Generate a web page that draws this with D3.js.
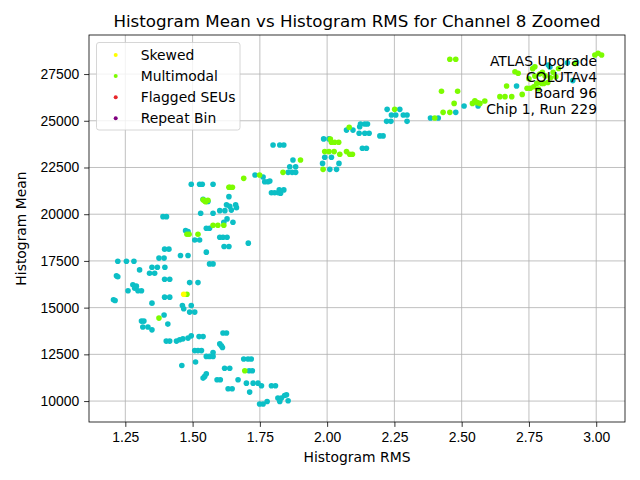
<!DOCTYPE html>
<html>
<head>
  <meta charset="utf-8">
  <title>Histogram Mean vs Histogram RMS</title>
  <script src="https://d3js.org/d3.v7.min.js"></script>
  <style>
    body, html { margin: 0; padding: 0; background: #fff; }
    svg { display: block; font-family: "DejaVu Sans", sans-serif; }
    .grid line { stroke: #b0b0b0; stroke-width: 0.8px; }
    .axis text { font-size: 13.9px; fill: #000; }
    .axis path, .axis line { stroke: #000; stroke-width: 0.8px; }
  </style>
</head>
<body>
<svg width="640" height="480"></svg>
<script>
  // Every channel-8 histogram (drawn first, no legend entry)
  const allPoints = [
    [1.206,15420],[1.212,15380],[1.217,16700],[1.222,16650],
    [1.222,17480],[1.254,17480],[1.282,17480],[1.303,17020],
    [1.349,17160],[1.369,17160],[1.397,17160],[1.340,16840],[1.359,16840],
    [1.396,16520],[1.415,16520],[1.489,16340],[1.520,16340],
    [1.278,16220],[1.285,16040],[1.291,16150],[1.260,15900],[1.297,15900],[1.310,15900],
    [1.396,15560],[1.415,15560],[1.349,15240],
    [1.462,15110],[1.467,14940],[1.495,15110],[1.489,14760],[1.508,14760],
    [1.394,14610],[1.310,14280],[1.319,14280],[1.408,14120],
    [1.315,13960],[1.334,13960],[1.349,13810],
    [1.402,13210],[1.415,13210],[1.440,13210],[1.452,13280],[1.464,13330],[1.483,13370],[1.495,13490],
    [1.524,13450],[1.539,13450],[1.613,13640],[1.626,13640],
    [1.601,13060],[1.607,12960],[1.611,12870],
    [1.508,12700],[1.520,12700],[1.533,12700],[1.576,12600],
    [1.551,12390],[1.563,12390],[1.576,12390],[1.511,12090],[1.460,11900],
    [1.690,12250],[1.706,12250],[1.718,12250],[1.619,11760],[1.638,11760],
    [1.710,11620],[1.722,11620],[1.551,11460],[1.545,11320],[1.539,11230],
    [1.591,11140],[1.603,11140],[1.669,11140],
    [1.700,10960],[1.725,10960],[1.743,10960],[1.756,10820],[1.793,10820],[1.808,10820],
    [1.632,10660],[1.647,10660],[1.712,10480],
    [1.817,10160],[1.830,10160],[1.842,10300],[1.849,10340],[1.824,9980],[1.855,10020],
    [1.777,9980],[1.749,9840],[1.762,9840],
    [1.799,23700],[1.824,23700],[1.839,23700],
    [1.732,22100],[1.762,21990],[1.768,21740],[1.780,21740],[1.787,21780],
    [1.495,21600],[1.526,21600],[1.536,21600],[1.576,21600],[1.635,20940],
    [1.539,20800],[1.557,20680],[1.626,20500],[1.638,20420],[1.660,20500],[1.663,20350],
    [1.601,20190],[1.620,20190],[1.644,20220],[1.530,20050],[1.576,20050],
    [1.390,19870],[1.403,19870],[1.628,19750],[1.616,19570],[1.650,19570],
    [1.551,19250],[1.563,19250],[1.474,19120],[1.483,19070],
    [1.508,18620],[1.526,18620],[1.601,18770],[1.613,18770],[1.628,18770],
    [1.617,18270],[1.635,18270],[1.707,18450],[1.551,17970],
    [1.396,18130],[1.412,18130],[1.455,17790],[1.483,17790],
    [1.375,17650],[1.394,17650],[1.563,17340],[1.576,17340],
    [1.793,21150],[1.805,21150],[1.818,21150],[1.827,21120],[1.822,21300],[1.839,21300],
    [1.855,22240],[1.870,22240],[1.883,22240],[1.861,22540],[1.883,22540],[1.873,22900],
    [1.983,22720],[2.010,22400],[2.035,22400],[1.991,23050],[2.016,23050],[2.044,22720],
    [1.987,24030],[2.007,24030],[2.131,23530],[2.146,23530],
    [2.072,24500],[2.096,24500],[2.119,24330],[2.140,24330],[2.156,24330],
    [2.121,24680],[2.124,24830],[2.140,24830],[2.150,24830],[2.196,24190],[2.208,24190],
    [2.221,24970],[2.237,24970],[2.297,24970],[2.223,25610],[2.270,25610],
    [2.239,25310],[2.255,25310],[2.283,25310],[2.297,25310],
    [2.384,25150],[2.413,25150],[2.478,25450],[2.509,25790],[2.561,25790],
    [2.704,26860],[2.822,27980],[2.828,27880],[2.893,28100],[2.927,28130],[2.913,27150]
  ];

  const multimodalPoints = [
    [1.479,15720],[1.375,14440],[1.694,11620],[1.690,21920],[1.749,22100],
    [1.635,21440],[1.638,21440],[1.648,21440],
    [1.539,20770],[1.549,20670],[1.557,20750],[1.545,20700],
    [1.576,19410],[1.594,19410],[1.616,19410],[1.479,18930],[1.487,18930],[1.520,18930],
    [1.836,22240],[1.901,22900],[1.985,22400],
    [1.991,23350],[2.007,23350],[2.026,23350],[2.047,23210],
    [2.072,23350],[2.084,23210],[2.094,23210],
    [2.012,24020],[2.016,23850],[2.028,23850],[2.043,23850],[2.082,24650],
    [2.251,25610],[2.400,25150],[2.431,25450],[2.456,25450],[2.472,25930],
    [2.425,26580],[2.485,26580],
    [2.540,25930],[2.549,26070],[2.558,25970],[2.568,25930],[2.586,26060],
    [2.456,28290],[2.478,28290],[2.642,26290],[2.661,26290],[2.686,26290],[2.725,26410],
    [2.667,26860],[2.743,26740],[2.755,26740],[2.768,26820],
    [2.779,27000],[2.797,27000],[2.805,27000],[2.772,27390],
    [2.698,27620],[2.710,27540],[2.764,27790],[2.772,27890],
    [2.790,27500],[2.810,27400],[2.830,27300],[2.850,27350],[2.800,27600],
    [2.785,26700],[2.820,27050],[2.840,27600],[2.860,27800],[2.750,27250],
    [2.921,28070],[2.995,28520],[3.007,28610],[3.020,28520]
  ];
  const skewedPoints = [[1.467,15720]];
  const flaggedSEUPoints = [];
  const repeatBinPoints = [];

  const xTicks = [1.25, 1.50, 1.75, 2.00, 2.25, 2.50, 2.75, 3.00];
  const yTicks = [10000, 12500, 15000, 17500, 20000, 22500, 25000, 27500];
  const infoLines = ["ATLAS Upgrade", "COLUTAv4", "Board 96", "Chip 1, Run 229"];

  const series = [
    { label: "Skewed", color: "#ffff00", pts: skewedPoints },
    { label: "Multimodal", color: "#7cfc00", pts: multimodalPoints },
    { label: "Flagged SEUs", color: "#e8272a", pts: flaggedSEUPoints },
    { label: "Repeat Bin", color: "#800080", pts: repeatBinPoints }
  ];

  const svg = d3.select("svg");
  const plotL = 89, plotR = 625, plotT = 35, plotB = 422;

  const x = d3.scaleLinear().domain([1.115, 3.107]).range([plotL, plotR]);
  const y = d3.scaleLinear().domain([8880, 29590]).range([plotB, plotT]);

  // grid
  const grid = svg.append("g").attr("class", "grid");
  grid.selectAll(".gx").data(xTicks).enter().append("line")
    .attr("x1", d => x(d)).attr("x2", d => x(d))
    .attr("y1", plotT).attr("y2", plotB);
  grid.selectAll(".gy").data(yTicks).enter().append("line")
    .attr("x1", plotL).attr("x2", plotR)
    .attr("y1", d => y(d)).attr("y2", d => y(d));

  // base points
  svg.append("g").selectAll("circle")
    .data(allPoints).enter().append("circle")
    .attr("cx", d => x(d[0])).attr("cy", d => y(d[1]))
    .attr("r", 2.8).attr("fill", "#0cbfc6");

  // flagged categories on top
  [series[1], series[0], series[2], series[3]].forEach(s => {
    svg.append("g").selectAll("circle")
      .data(s.pts).enter().append("circle")
      .attr("cx", d => x(d[0])).attr("cy", d => y(d[1]))
      .attr("r", 2.8).attr("fill", s.color);
  });

  // axes
  svg.append("g").attr("class", "axis")
    .attr("transform", `translate(0,${plotB})`)
    .call(d3.axisBottom(x).tickValues(xTicks).tickFormat(d3.format(".2f"))
      .tickSizeOuter(0).tickSize(4.9).tickPadding(4.9))
    .call(g => g.select(".domain").remove());
  svg.append("g").attr("class", "axis")
    .attr("transform", `translate(${plotL},0)`)
    .call(d3.axisLeft(y).tickValues(yTicks).tickFormat(d3.format("d"))
      .tickSizeOuter(0).tickSize(4.9).tickPadding(4.9))
    .call(g => g.select(".domain").remove());

  svg.append("rect")
    .attr("x", plotL).attr("y", plotT)
    .attr("width", plotR - plotL).attr("height", plotB - plotT)
    .attr("fill", "none").attr("stroke", "#000").attr("stroke-width", 0.8);

  // title and axis labels
  svg.append("text")
    .attr("x", (plotL + plotR) / 2).attr("y", 27)
    .attr("text-anchor", "middle").attr("font-size", "16.7px")
    .text("Histogram Mean vs Histogram RMS for Channel 8 Zoomed");
  svg.append("text")
    .attr("x", (plotL + plotR) / 2).attr("y", 462)
    .attr("text-anchor", "middle").attr("font-size", "13.9px")
    .text("Histogram RMS");
  svg.append("text")
    .attr("transform", `translate(26,${(plotT + plotB) / 2}) rotate(-90)`)
    .attr("text-anchor", "middle").attr("font-size", "13.9px")
    .text("Histogram Mean");

  // info block
  svg.append("g").selectAll("text")
    .data(infoLines).enter().append("text")
    .attr("x", 597).attr("y", (d, i) => 66 + i * 16)
    .attr("text-anchor", "end").attr("font-size", "13.9px")
    .text(d => d);

  // legend
  const legend = svg.append("g");
  legend.append("rect")
    .attr("x", 96.5).attr("y", 42.5).attr("width", 143.5).attr("height", 87.5)
    .attr("rx", 2.5).attr("fill", "#fff").attr("fill-opacity", 0.8)
    .attr("stroke", "#cccccc").attr("stroke-width", 0.8);
  const rows = legend.selectAll(".row").data(series).enter().append("g")
    .attr("transform", (d, i) => `translate(0,${55 + i * 21.1})`);
  rows.append("circle").attr("cx", 115.7).attr("cy", 0).attr("r", 2)
    .attr("fill", d => d.color);
  rows.append("text").attr("x", 140.7).attr("y", 5)
    .attr("font-size", "13.9px").text(d => d.label);
</script>
</body>
</html>
